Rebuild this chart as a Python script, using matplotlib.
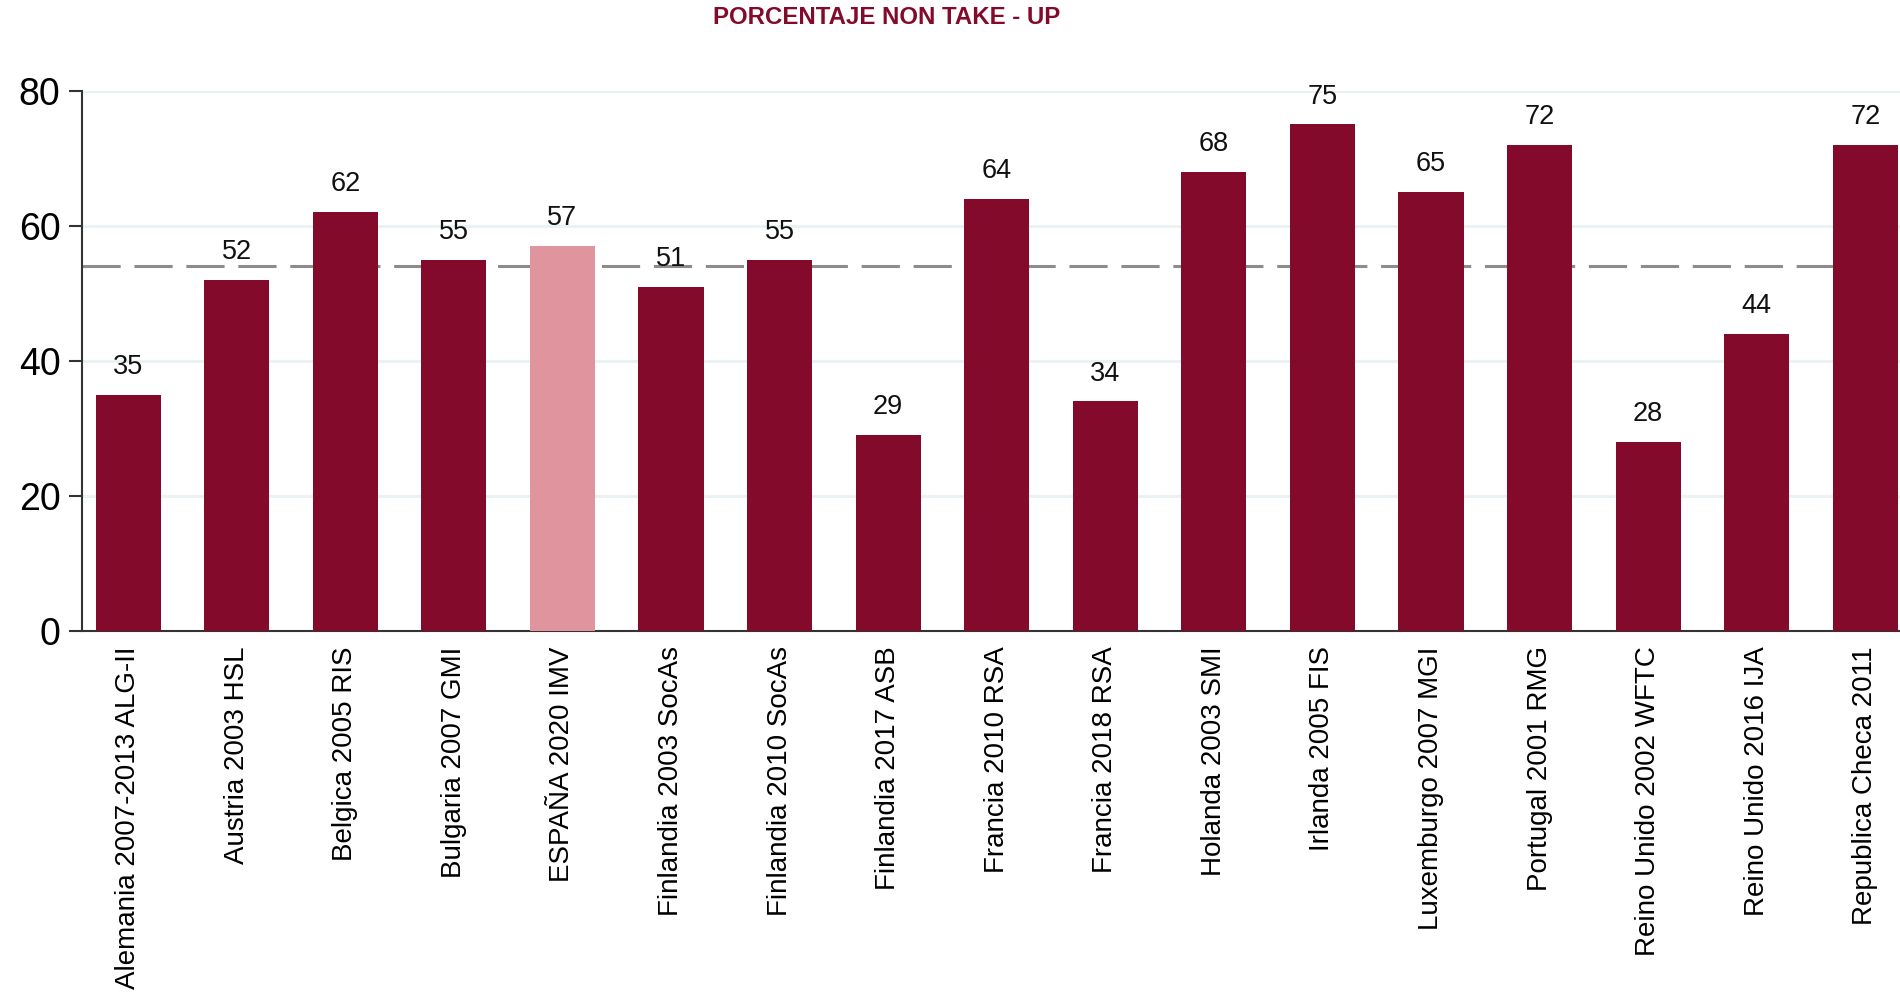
import numpy as np
import matplotlib
matplotlib.use("Agg")
import matplotlib.pyplot as plt

plt.rcParams['font.family'] = ['Liberation Sans', 'DejaVu Sans']

# Datos
programas = ["Alemania 2007-2013 ALG-II", "Austria 2003 HSL", "Belgica 2005 RIS",
             "Bulgaria 2007 GMI", "ESPAÑA 2020 IMV", "Finlandia 2003 SocAs",
             "Finlandia 2010 SocAs", "Finlandia 2017 ASB", "Francia 2010 RSA",
             "Francia 2018 RSA", "Holanda 2003 SMI", "Irlanda 2005 FIS",
             "Luxemburgo 2007 MGI", "Portugal 2001 RMG", "Reino Unido 2002 WFTC",
             "Reino Unido 2016 IJA", "Republica Checa 2011"]
non_take_up = [35, 52, 62, 55, 57, 51, 55, 29, 64, 34, 68, 75, 65, 72, 28, 44, 72]
destacado = "ESPAÑA 2020 IMV"

granate = "#840A2B"
rosa = "#E0959E"

fig = plt.figure(figsize=(19, 9.92), dpi=100)
ax = fig.add_axes([0.0432, 0.3639, 1 - 0.0432, 0.9086 - 0.3639])

x = np.arange(len(programas))
colores = [rosa if p == destacado else granate for p in programas]
ax.bar(x, non_take_up, width=0.6, color=colores, zorder=3)

# Media
media = np.mean(non_take_up)
ax.axhline(media, color="#8c8c8c", linewidth=2.2, dashes=(12.5, 4.5), zorder=2)

# Etiquetas de valor
for xi, v in zip(x, non_take_up):
    ax.annotate(str(v), (xi, v), xytext=(0, 15), textcoords="offset points",
                ha="center", va="baseline", fontsize=19.5, color="#111111", zorder=4)

ax.set_xlim(-0.424, len(programas) - 1 + 0.32)
ax.set_ylim(0, 80)
ax.set_yticks([0, 20, 40, 60, 80])
ax.yaxis.grid(True, color="#e8f1f3", linewidth=2, zorder=0)
ax.set_axisbelow(True)

ax.set_xticks(x)
ax.set_xticklabels(programas, rotation=90, fontsize=20, va="top", ha="center")
ax.tick_params(axis="x", length=0, pad=11)
ax.tick_params(axis="y", labelsize=27, length=9.5, width=1.5, pad=6, color="#333333")

for lado in ["top", "right"]:
    ax.spines[lado].set_visible(False)
for lado in ["left", "bottom"]:
    ax.spines[lado].set_color("#333333")
    ax.spines[lado].set_linewidth(1.5)

fig.text(887 / 1900, 1 - 17 / 992, "PORCENTAJE NON TAKE - UP", ha="center", va="center",
         fontsize=17.3, fontweight="bold", color=granate)

fig.savefig("out.png", dpi=100)
